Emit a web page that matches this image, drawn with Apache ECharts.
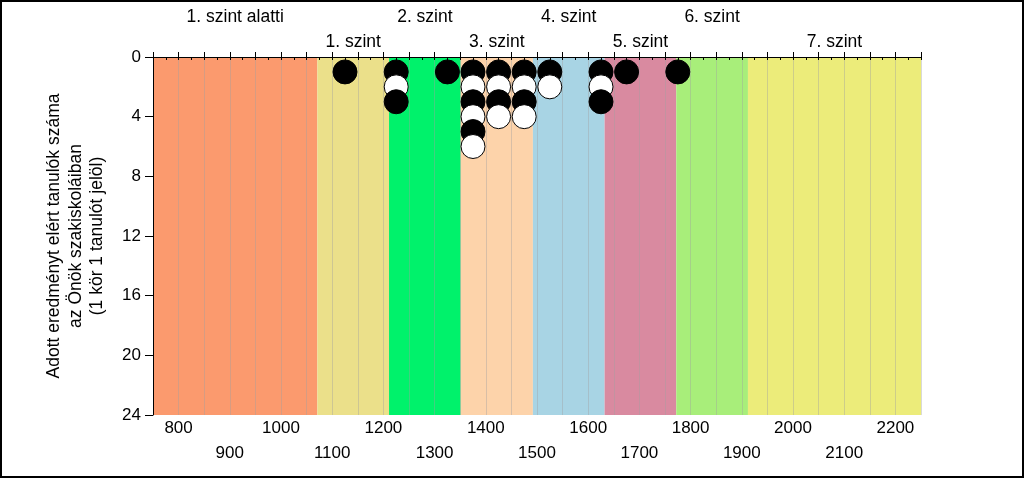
<!DOCTYPE html>
<html>
<head>
<meta charset="utf-8">
<script src="https://cdn.jsdelivr.net/npm/echarts@6/dist/echarts.min.js"></script>
<style>
html,body{margin:0;padding:0;background:#fff;}
#wrap{position:relative;width:1024px;height:478px;}
#chart{position:absolute;left:0;top:0;width:1024px;height:478px;}
#frame{position:absolute;left:0;top:0;width:1024px;height:478px;box-sizing:border-box;border:2px solid #000;pointer-events:none;}
</style>
</head>
<body>
<div id="wrap"><div id="chart"></div><div id="frame"></div></div>
<script>
// score bins (centre of each 50-point bin) and number of students in each
const binCenters = [1125, 1225, 1325, 1375, 1425, 1475, 1525, 1625, 1675, 1775];
const counts     = [1, 3, 1, 6, 4, 4, 2, 3, 1, 1];

// proficiency levels
const levelNames  = ['1. szint alatti', '1. szint', '2. szint', '3. szint', '4. szint', '5. szint', '6. szint', '7. szint'];
const levelBounds = [750, 1071, 1211, 1351, 1492, 1632, 1772, 1912, 2250];
const levelColors = ['#FB9A6E', '#EBE08A', '#00F26B', '#FDD3AA', '#A8D4E4', '#D98AA0', '#A8EE7A', '#ECEC7A'];

// axes
const xMin = 750, xMax = 2250, xStep = 50;
const yMin = 0, yMax = 24, yStep = 4;
const yTitle = 'Adott eredményt elért tanulók száma\naz Önök szakiskoláiban\n(1 kör 1 tanulót jelöl)';

const FONT = '"Liberation Sans", Arial, sans-serif';

// build scatter points row by row so later rows sit on top
const points = [];
const maxCount = Math.max(...counts);
for (let k = 1; k <= maxCount; k++) {
  binCenters.forEach((x, i) => {
    if (counts[i] >= k) {
      points.push({
        value: [x, k],
        itemStyle: { color: k % 2 === 1 ? '#000' : '#fff', borderColor: '#000', borderWidth: 1, opacity: 1 }
      });
    }
  });
}

const bands = levelNames.map((name, i) => ([
  {
    name: name,
    xAxis: levelBounds[i],
    itemStyle: { color: levelColors[i], opacity: 1 },
    label: { distance: i % 2 === 0 ? 31 : 6 }
  },
  { xAxis: levelBounds[i + 1] }
]));

const chart = echarts.init(document.getElementById('chart'), null, { renderer: 'canvas' });
const baseX = { type: 'value', min: xMin, max: xMax, interval: xStep };
chart.setOption({
  animation: false,
  backgroundColor: '#fff',
  grid: { left: 153, right: 103, top: 57, bottom: 63 },
  xAxis: [
    Object.assign({}, baseX, {
      position: 'bottom', z: 5,
      axisLine: { show: true, lineStyle: { color: '#000', width: 1 } },
      axisTick: { show: true, length: 3, lineStyle: { color: '#000' } },
      minorTick: { show: true, splitNumber: 2, length: 3, lineStyle: { color: '#000' } },
      splitLine: { show: true, lineStyle: { color: 'rgba(160,160,160,0.4)', width: 1 } },
      axisLabel: {
        margin: 5, fontSize: 17, color: '#000', fontFamily: FONT,
        formatter: v => (v % 200 === 0 ? String(v) : '')
      }
    }),
    Object.assign({}, baseX, {
      position: 'bottom', z: 5,
      axisLine: { show: false }, axisTick: { show: false }, splitLine: { show: false },
      axisLabel: {
        margin: 30, fontSize: 17, color: '#000', fontFamily: FONT,
        formatter: v => (v % 200 === 100 ? String(v) : '')
      }
    }),
    Object.assign({}, baseX, {
      position: 'top', z: 5,
      axisLine: { show: true, lineStyle: { color: '#000', width: 1 } },
      axisTick: { show: true, length: 5, lineStyle: { color: '#000' } },
      splitLine: { show: false },
      axisLabel: { show: false }
    })
  ],
  yAxis: {
    type: 'value', min: yMin, max: yMax, interval: yStep, inverse: true, z: 5,
    axisLine: { show: true, lineStyle: { color: '#000', width: 1 } },
    axisTick: { show: true, length: 8, lineStyle: { color: '#000' } },
    splitLine: { show: false },
    axisLabel: { margin: 12, fontSize: 17, color: '#000', fontFamily: FONT },
    name: yTitle,
    nameLocation: 'middle',
    nameRotate: 90,
    nameGap: 45,
    nameTextStyle: { fontSize: 17.5, lineHeight: 21.5, color: '#000', fontFamily: FONT, align: 'center' }
  },
  series: [
    {
      type: 'scatter', xAxisIndex: 0, yAxisIndex: 0, data: [], z: 1,
      markArea: {
        silent: true, z: 1,
        label: { show: true, position: 'top', color: '#000', fontSize: 17.5, fontFamily: FONT },
        data: bands
      }
    },
    {
      type: 'scatter', xAxisIndex: 0, yAxisIndex: 0, z: 10,
      symbol: 'circle', symbolSize: 24,
      itemStyle: { opacity: 1 },
      data: points
    }
  ]
});
</script>
</body>
</html>
